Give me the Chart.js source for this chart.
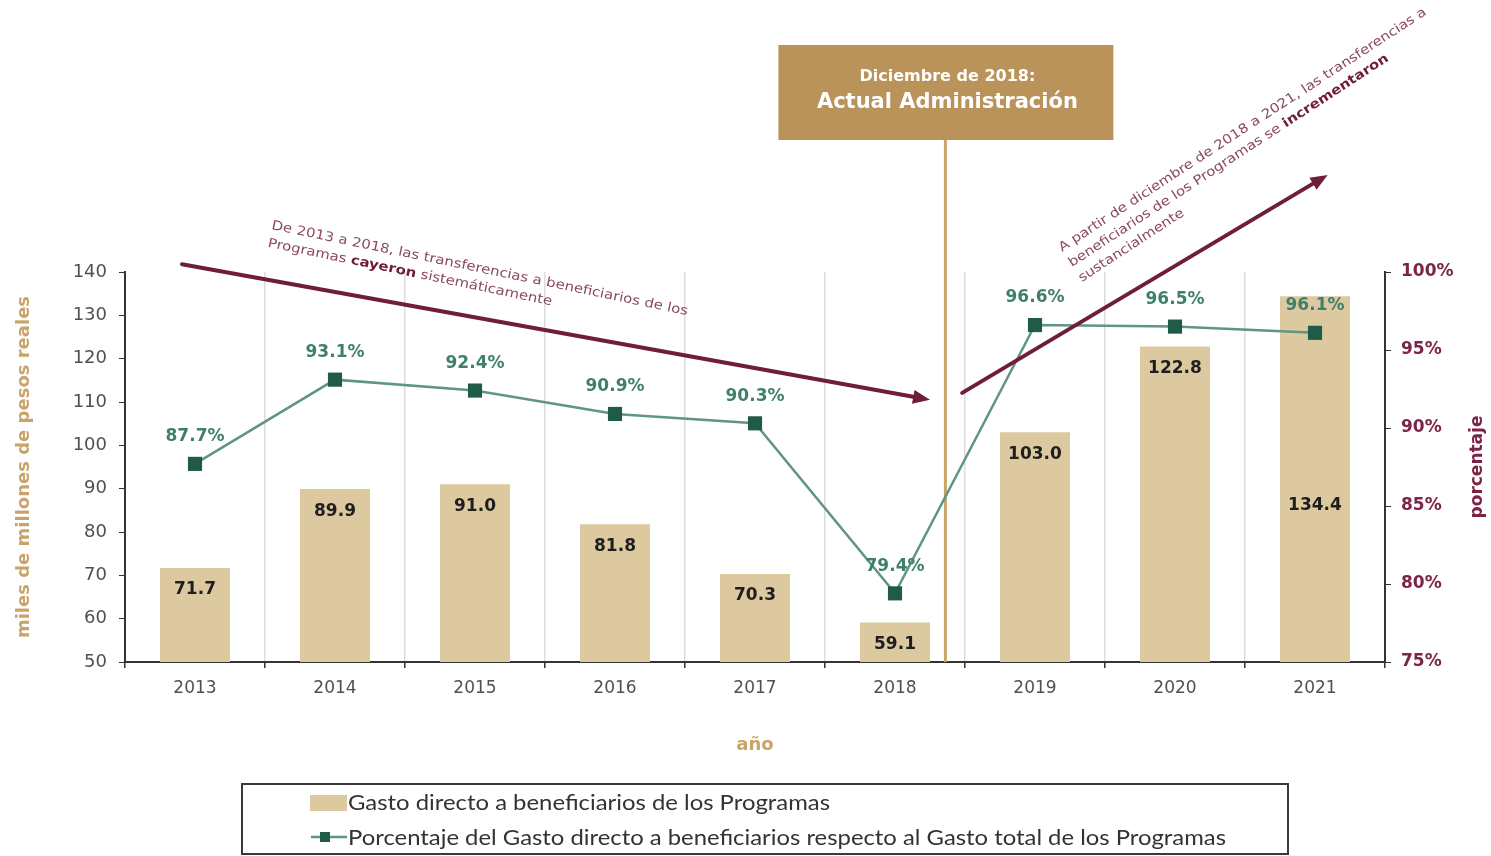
<!DOCTYPE html>
<html><head><meta charset="utf-8">
<script src="https://cdn.jsdelivr.net/npm/chart.js@4.4.0/dist/chart.umd.min.js"></script>
<style>html,body{margin:0;padding:0;background:#fff;overflow:hidden}</style>
</head><body>
<canvas id="c" width="1491" height="856"></canvas>
<script>
// ---- data ----
const years = ['2013','2014','2015','2016','2017','2018','2019','2020','2021'];
const gastoDirecto = [71.7, 89.9, 91.0, 81.8, 70.3, 59.1, 103.0, 122.8, 134.4];
const porcentaje = [87.7, 93.1, 92.4, 90.9, 90.3, 79.4, 96.6, 96.5, 96.1];
const leftAxisRange = [50, 140, 10];
const rightAxisRange = [75, 100, 5];
const seriesBarName = 'Gasto directo a beneficiarios de los Programas';
const seriesLineName = 'Porcentaje del Gasto directo a beneficiarios respecto al Gasto total de los Programas';
const leftAxisTitle = 'miles de millones de pesos reales';
const rightAxisTitle = 'porcentaje';
const xAxisTitle = 'año';
const boxLines = ['Diciembre de 2018:', 'Actual Administración'];
const noteFall = [
  [['De 2013 a 2018, las transferencias a beneficiarios de los', false]],
  [['Programas ', false], ['cayeron', true], [' sistemáticamente', false]]
];
const noteRise = [
  [['A partir de diciembre de 2018 a 2021, las transferencias a', false]],
  [['beneficiarios de los Programas se ', false], ['incrementaron', true]],
  [['sustancialmente', false]]
];

// ---- styles ----
const TAN = '#dcc9a0', TAN_DARK = '#c9a46a', BOX = '#ba935b', MAROON = '#6e1d3a';
const LINE = '#5e9585', MARK = '#1f5b47', PCT = '#3f7f6d';
const FONT = "'DejaVu Sans', sans-serif";

function richLine(ctx, segs, size, colorN, colorB, x, y) {
  let cx = x;
  for (const [t, b] of segs) {
    ctx.font = (b ? 'bold ' : '') + size + 'px ' + FONT;
    ctx.fillStyle = b ? colorB : colorN;
    ctx.fillText(t, cx, y);
    cx += ctx.measureText(t).width;
  }
}
function note(ctx, lines, x, y, angleDeg, size, gap, targetFirst) {
  ctx.save();
  ctx.translate(x, y);
  ctx.rotate(angleDeg * Math.PI / 180);
  ctx.textBaseline = 'alphabetic';
  ctx.textAlign = 'left';
  ctx.font = size + 'px ' + FONT;
  const w = ctx.measureText(lines[0].map(s => s[0]).join('')).width;
  ctx.scale(targetFirst / w, 1);
  lines.forEach((segs, i) => richLine(ctx, segs, size, '#8a4a62', MAROON, 0, i * gap));
  ctx.restore();
}
function arrow(ctx, x1, y1, x2, y2) {
  const a = Math.atan2(y2 - y1, x2 - x1), L = 17, H = 7;
  ctx.save();
  ctx.strokeStyle = MAROON; ctx.fillStyle = MAROON; ctx.lineWidth = 4; ctx.lineCap = 'round';
  ctx.beginPath(); ctx.moveTo(x1, y1);
  ctx.lineTo(x2 - L * Math.cos(a), y2 - L * Math.sin(a)); ctx.stroke();
  ctx.beginPath(); ctx.moveTo(x2, y2);
  ctx.lineTo(x2 - L * Math.cos(a) + H * Math.sin(a), y2 - L * Math.sin(a) - H * Math.cos(a));
  ctx.lineTo(x2 - L * Math.cos(a) - H * Math.sin(a), y2 - L * Math.sin(a) + H * Math.cos(a));
  ctx.closePath(); ctx.fill();
  ctx.restore();
}
function fitText(ctx, text, x, y, target) {
  const w = ctx.measureText(text).width;
  ctx.save(); ctx.translate(x, y); ctx.scale(target / w, 1); ctx.fillText(text, 0, 0); ctx.restore();
}

const overlay = {
  id: 'overlay',
  beforeDatasetsDraw(chart) {
    const { ctx, scales: { x }, chartArea } = chart;
    const vx = x.getPixelForValue(5.36);
    ctx.save();
    ctx.strokeStyle = TAN_DARK; ctx.lineWidth = 3;
    ctx.beginPath(); ctx.moveTo(vx, 140); ctx.lineTo(vx, chartArea.bottom); ctx.stroke();
    ctx.restore();
  },
  afterDatasetsDraw(chart) {
    const { ctx } = chart;
    const bars = chart.getDatasetMeta(0).data;
    const pts = chart.getDatasetMeta(1).data;
    ctx.save();
    ctx.textAlign = 'center'; ctx.textBaseline = 'middle';
    ctx.font = 'bold 17px ' + FONT;
    bars.forEach((b, i) => {
      const pY = pts[i].y - 27;
      let y = b.y + 22;
      if (Math.abs(pY - y) < 30) y = b.y + (b.base - b.y) * 0.36;
      ctx.fillStyle = '#1e1e1e';
      ctx.fillText(gastoDirecto[i].toFixed(1), b.x, y);
    });
    pts.forEach((p, i) => {
      ctx.fillStyle = PCT;
      ctx.fillText(porcentaje[i].toFixed(1) + '%', p.x, p.y - 27);
    });
    ctx.restore();
  },
  afterDraw(chart) {
    const { ctx, scales: { x, y } } = chart;
    const vx = x.getPixelForValue(5.36);
    // box
    ctx.save();
    ctx.fillStyle = BOX;
    ctx.fillRect(vx - 167, 45, 335, 95);
    ctx.fillStyle = '#fff'; ctx.textAlign = 'center'; ctx.textBaseline = 'middle';
    ctx.font = 'bold 16px ' + FONT; ctx.fillText(boxLines[0], vx + 2, 77);
    ctx.font = 'bold 21px ' + FONT; ctx.fillText(boxLines[1], vx + 2, 103);
    ctx.restore();
    // arrows
    arrow(ctx, x.getPixelForValue(-0.093), y.getPixelForValue(141.8), x.getPixelForValue(5.25), y.getPixelForValue(110.5));
    arrow(ctx, x.getPixelForValue(5.48), y.getPixelForValue(112.1), x.getPixelForValue(8.09), y.getPixelForValue(162.4));
    // notes
    note(ctx, noteFall, 271, 229, 11.7, 13, 18, 425);
    note(ctx, noteRise, 1062, 252, -33.1, 13, 18, 436);
    // right axis title
    ctx.save();
    ctx.translate(1478, 467); ctx.rotate(-Math.PI / 2);
    ctx.font = 'bold 17px ' + FONT; ctx.fillStyle = '#7b2447';
    ctx.textAlign = 'center'; ctx.textBaseline = 'middle';
    ctx.fillText(rightAxisTitle, 0, 0);
    ctx.restore();
    // legend
    const ds = chart.data.datasets;
    ctx.save();
    ctx.strokeStyle = '#3a3a3a'; ctx.lineWidth = 2;
    ctx.strokeRect(242, 784, 1046, 70);
    ctx.fillStyle = ds[0].backgroundColor; ctx.fillRect(310, 795, 37, 16);
    ctx.strokeStyle = ds[1].borderColor; ctx.lineWidth = 2.5;
    ctx.beginPath(); ctx.moveTo(311, 837); ctx.lineTo(347, 837); ctx.stroke();
    ctx.fillStyle = MARK; ctx.fillRect(320, 832, 10, 10);
    ctx.fillStyle = '#333'; ctx.textBaseline = 'middle'; ctx.textAlign = 'left';
    ctx.font = "21px 'Liberation Sans Narrow', Lato, sans-serif";
    fitText(ctx, ds[0].label, 348, 803, 482);
    fitText(ctx, ds[1].label, 348, 838, 878);
    ctx.restore();
  }
};

new Chart(document.getElementById('c'), {
  data: {
    labels: years,
    datasets: [
      { type: 'bar', label: seriesBarName, data: gastoDirecto, yAxisID: 'y',
        backgroundColor: TAN, barPercentage: 0.5, categoryPercentage: 1, order: 1 },
      { type: 'line', label: seriesLineName, data: porcentaje, yAxisID: 'y1',
        borderColor: LINE, borderWidth: 2.5, tension: 0,
        pointStyle: 'rect', pointRadius: 10, pointHoverRadius: 10,
        pointBackgroundColor: MARK, pointBorderColor: MARK, pointBorderWidth: 0, order: 0 }
    ]
  },
  options: {
    responsive: false, animation: false, devicePixelRatio: 1,
    layout: { padding: { top: 272, left: 0, right: 0, bottom: 100 } },
    plugins: { legend: { display: false }, tooltip: { enabled: false } },
    scales: {
      x: {
        z: 1,
        grid: { offset: true, color: '#dcdcdc', lineWidth: 1.5, tickColor: '#333', tickLength: 6 },
        border: { color: '#333', width: 2 },
        ticks: { color: '#505050', font: { family: FONT, size: 17 }, padding: 10 },
        title: { display: true, text: xAxisTitle, color: TAN_DARK, font: { family: FONT, size: 18, weight: 'bold' }, padding: { top: 0, bottom: 0 } },
        afterFit(s) { s.height = 94; }
      },
      y: {
        position: 'left', min: leftAxisRange[0], max: leftAxisRange[1],
        grid: { drawOnChartArea: false, tickColor: '#333', tickLength: 6 },
        border: { color: '#333', width: 2 },
        ticks: { stepSize: leftAxisRange[2], color: '#505050', font: { family: FONT, size: 18 }, padding: 12 },
        title: { display: true, text: leftAxisTitle, color: TAN_DARK, font: { family: FONT, size: 18, weight: 'bold' }, padding: { top: 14, bottom: 0 } },
        afterFit(s) { s.width = 125; }
      },
      y1: {
        position: 'right', min: rightAxisRange[0], max: rightAxisRange[1],
        grid: { drawOnChartArea: false, tickColor: '#333', tickLength: 6 },
        border: { color: '#333', width: 2 },
        ticks: { stepSize: rightAxisRange[2], color: '#7b2447', font: { family: FONT, size: 17, weight: 'bold' }, padding: 10,
                 callback: v => v + '%' },
        afterFit(s) { s.width = 106; }
      }
    }
  },
  plugins: [overlay]
});
</script>
</body></html>
